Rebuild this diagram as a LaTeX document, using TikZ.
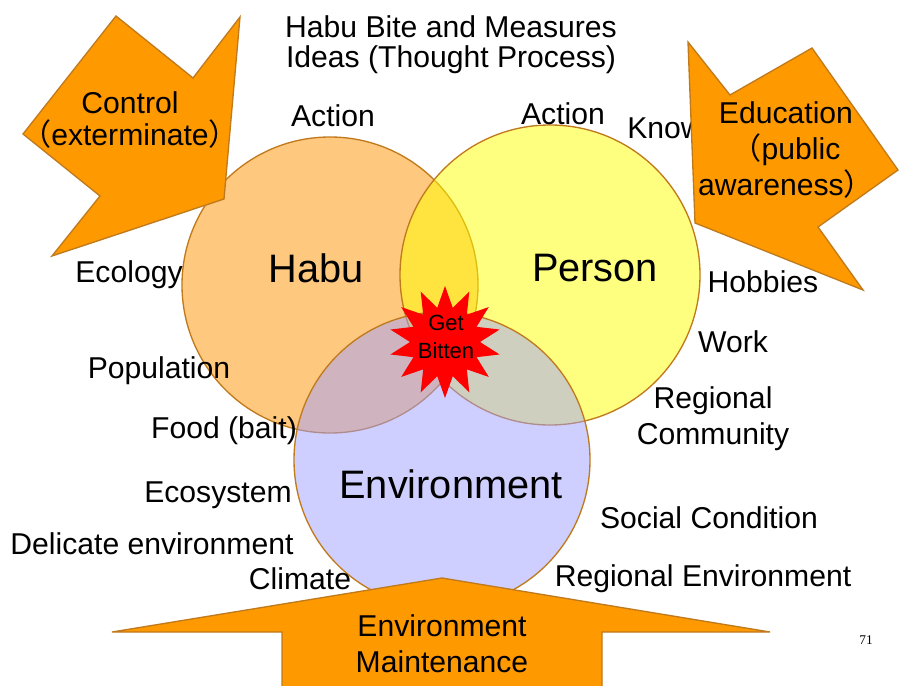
\documentclass[tikz,border=0pt]{standalone}
\usepackage{fontspec}
\setmainfont{Liberation Sans}
\newfontfamily\cjk{Noto Sans CJK SC}
\newfontfamily\pagefont{Liberation Serif}
\usetikzlibrary{shapes.geometric}

\definecolor{arroworange}{HTML}{FF9900}
\definecolor{arrowedge}{HTML}{C07A1C}
\definecolor{ringedge}{HTML}{C07A1C}
\definecolor{habufill}{HTML}{FF9100}
\definecolor{personfill}{HTML}{FFFF00}
\definecolor{envfill}{HTML}{A0A0FF}

\begin{document}
\begin{tikzpicture}[x=0.75pt, y=-0.75pt,
  lbl/.style={font=\fontsize{22.6}{26}\selectfont, inner sep=0pt, align=center},
  biglbl/.style={font=\fontsize{29.8}{34}\selectfont, inner sep=0pt},
  bigarrow/.style={fill=arroworange, draw=arrowedge, line width=1pt, line join=miter},
  ring/.style={draw=ringedge, line width=1pt, fill opacity=0.5}]

  \useasboundingbox (0,0) rectangle (899,685);

  \coordinate (habu) at (330,285); % habu circle center
  \coordinate (person) at (550,275); % person circle center
  \coordinate (env) at (442,460); % environment circle center

  % the three sets
  \draw[ring, fill=habufill] (habu) circle [radius=148];
  \draw[ring, fill=personfill] (person) circle [radius=150];
  \draw[ring, fill=envfill] (env) circle [radius=148];

  \node[star, star points=14, star point ratio=1.6, fill=red, inner sep=0pt,
        minimum size=84pt] (bite) at (445,342) {};
  \node[font=\fontsize{16.5}{21}\selectfont, align=center, inner sep=0pt]
        (bitetext) at (446,337) {Get\\Bitten};

  \node[biglbl] (habutext) at (316,268) {Habu};
  \node[biglbl] (persontext) at (595,268) {Person};
  \node[biglbl] (envtext) at (451,484) {Environment};

  % title
  \node[lbl, font=\fontsize{22.6}{22.5}\selectfont] (title) at (451,45)
        {Habu Bite and Measures\\Ideas (Thought Process)};

  \node[lbl] (actionl) at (333,116) {Action};
  \node[lbl] (actionr) at (563,114) {Action};
  \node[lbl, anchor=west] (know) at (627,128) {Know};
  \node[lbl] (ecology) at (129,275) {Ecology};
  \node[lbl] (population) at (159,371) {Population};
  \node[lbl] (food) at (224,431) {Food (bait)};
  \node[lbl] (ecosystem) at (218,495) {Ecosystem};
  \node[lbl] (delicate) at (152,544) {Delicate environment};
  \node[lbl] (climate) at (300,579) {Climate};
  \node[lbl] (hobbies) at (763,282) {Hobbies};
  \node[lbl] (work) at (733,342) {Work};
  \node[lbl, font=\fontsize{22.6}{27}\selectfont] (community) at (713,419) {Regional\\Community};
  \node[lbl] (social) at (709,518) {Social Condition};
  \node[lbl] (regenv) at (703,579) {Regional Environment};

  % control arrow, top left
  \draw[bigarrow] (116,16) -- (193,78) -- (240,17) -- (224,199) -- (52,256)
        -- (100,196) -- (23,134) -- cycle;
  \node[lbl, font=\fontsize{22.6}{24}\selectfont] (control) at (130,120)
        {Control\\{\cjk （}exterminate{\cjk ）}};

  % education arrow, top right
  \draw[bigarrow] (688,42) -- (730,95) -- (812,48) -- (898,170) -- (818,227)
        -- (863,290) -- (695,223) -- cycle;
  \node[lbl, font=\fontsize{22.6}{27}\selectfont] (education) at (786,150)
        {Education\\{\cjk （}public\\awareness{\cjk ）}};

  % maintenance arrow, bottom
  \draw[bigarrow] (442,578) -- (770,632) -- (602,632) -- (602,690) -- (282,690)
        -- (282,632) -- (112,632) -- cycle;
  \node[lbl, font=\fontsize{22.6}{27}\selectfont] (maintenance) at (442,644) {Environment\\Maintenance};

  \node[font=\pagefont\fontsize{10}{12}\selectfont, inner sep=0pt] (pagenum) at (866,640) {71};
\end{tikzpicture}
\end{document}
